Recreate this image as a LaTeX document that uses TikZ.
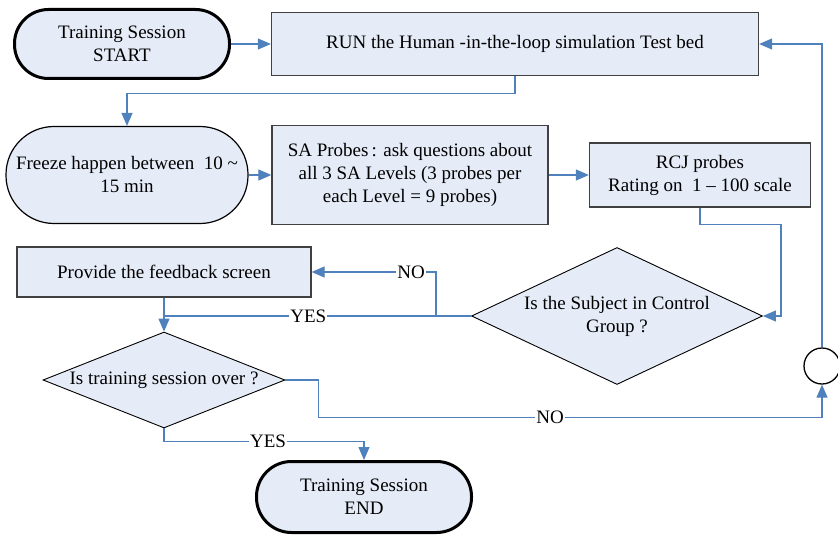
\documentclass[tikz,border=0pt]{standalone}
\usepackage{fontspec}
\setmainfont{Liberation Serif}
\usepackage{tikz}
\usetikzlibrary{shapes.geometric, arrows.meta, positioning, calc}
\definecolor{boxfill}{RGB}{230, 236, 247}
\definecolor{boxline}{RGB}{64, 64, 64}
\definecolor{flowcolor}{RGB}{79, 129, 189}
\tikzstyle{terminal} = [rectangle, rounded corners=34pt, minimum width=215pt, minimum height=69pt, align=center, draw=black, fill=boxfill, line width=3pt]
\tikzstyle{process} = [rectangle, minimum height=63pt, align=center, draw=boxline, fill=boxfill, line width=1.3pt]
\tikzstyle{decision} = [diamond, inner sep=0pt, align=center, draw=black, fill=boxfill, line width=0.9pt]
\tikzstyle{junction} = [circle, minimum size=36pt, inner sep=0pt, draw=black, fill=white, line width=1.3pt]
\tikzstyle{flow} = [draw=flowcolor, line width=1.2pt]
\tikzstyle{arrow} = [flow, -{Triangle[length=13pt, width=11pt]}]
\tikzstyle{answer} = [fill=white, inner sep=1pt]

\begin{document}
\begin{tikzpicture}[x=1pt, y=-1pt, font=\fontsize{19}{23}\selectfont]
\useasboundingbox (0,0) rectangle (838,535);

% Row 1 - start and test bed
\node (start) [terminal] at (122,44) {Training Session\\START};
\node (run) [process, minimum width=487pt] at (515,44) {RUN the Human -in-the-loop simulation Test bed};

% Row 2 - freeze and probes
\node (freeze) [terminal, rounded corners=48pt, minimum width=242pt, minimum height=97pt, line width=1.2pt] at (127,175) {Freeze happen between\ \ 10 \textasciitilde\\15 min};
\node (sa) [process, minimum width=276pt, minimum height=99pt] at (410,175) {SA Probes\,: ask questions about\\all 3 SA Levels (3 probes per\\each Level = 9 probes)};
\node (rcj) [process, minimum width=221pt, minimum height=64pt] at (700,175) {RCJ probes\\Rating on\ \ 1 -- 100 scale};

% Row 3 - feedback and control group
\node (feedback) [process, minimum width=294pt, minimum height=50pt] at (164,272) {Provide the feedback screen};
\node (control) [decision, aspect=2.1, minimum width=291pt, minimum height=137pt] at (617,316) {Is the Subject in Control\\Group ?};

% Row 4 - end of session
\node (over) [decision, aspect=2.5, minimum width=242pt, minimum height=96pt] at (164,380) {Is training session over ?};
\node (junc) [junction] at (822,366) {};
\node (end) [terminal, rounded corners=35pt, minimum height=71pt] at (364,497) {Training Session\\END};

% Arrows
\draw [arrow] (start) -- (run);
\draw [arrow] (run.south) -- ++(0,17) -| (freeze.north);
\draw [arrow] (freeze) -- (sa);
\draw [arrow] (sa) -- (rcj);
\draw [arrow] (rcj.south) -- ++(0,17) -| ($(control.east)+(18,0)$) -- (control.east);
\draw [arrow] (control.west) -- ++(-35,0) |- node[answer, pos=0.6] {NO} (feedback.east);
\draw [flow] (control.west) -- node[answer, pos=0.53] {YES} (feedback.south |- control.west);
\draw [arrow] (feedback) -- (over);
\draw [arrow] (over.east) -- ++(33,0) |- node[answer, pos=0.73] {NO} ($(junc.south)+(0,33)$) -- (junc.south);
\draw [arrow] (junc.north) |- (run.east);
\draw [arrow] (over.south) -- ++(0,13) -| node[answer, pos=0.26] {YES} (end.north);

\end{tikzpicture}
\end{document}
